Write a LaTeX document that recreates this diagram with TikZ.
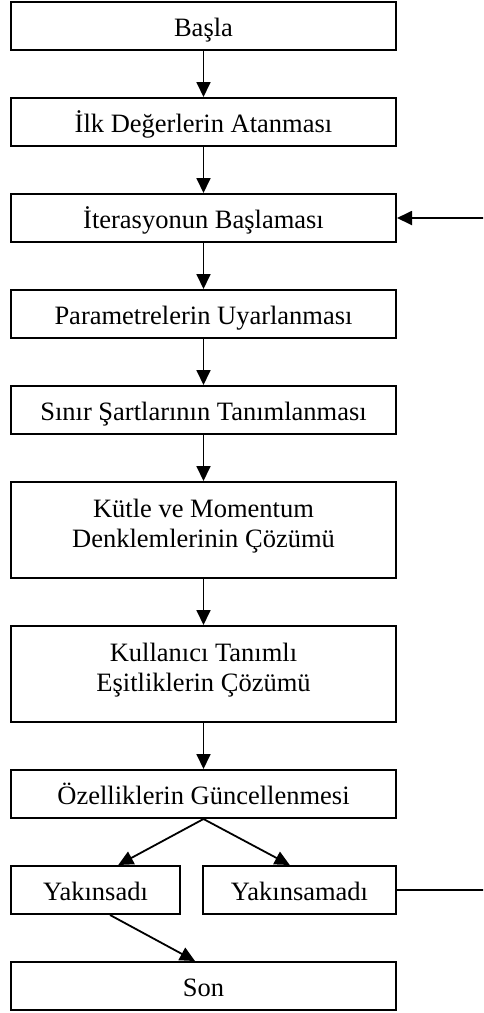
\documentclass[tikz,border=0pt]{standalone}
\usepackage{fontspec}
\setmainfont{Liberation Serif}
\usetikzlibrary{arrows.meta,calc}
\tikzset{
  box/.style={draw, line width=2pt, rectangle, inner sep=2pt,
    minimum width=385pt, minimum height=48pt,
    font=\fontsize{26.5}{30.6}\selectfont, text height=26pt, text depth=5pt},
  tallbox/.style={box, minimum height=96pt, text height=0pt, text depth=0pt},
  arr/.style={line width=1.8pt, -{Triangle[length=15pt, width=14pt]}}
}
\newcommand{\twolines}[2]{\raisebox{-2.5pt}[0pt][0pt]{\begin{tabular}{@{}c@{}}#1\\#2\end{tabular}}}
\begin{document}
\begin{tikzpicture}[x=1pt, y=-1pt]
\clip (0,0) rectangle (483,1013);
\node[box] (b1) at (203.5,26) {Başla};
\node[box] (b2) at (203.5,122) {İlk Değerlerin Atanması};
\node[box] (b3) at (203.5,218) {İterasyonun Başlaması};
\node[box] (b4) at (203.5,314) {Parametrelerin Uyarlanması};
\node[box] (b5) at (203.5,410) {Sınır Şartlarının Tanımlanması};
\node[tallbox] (b6) at (203.5,530) {\twolines{Kütle ve Momentum}{Denklemlerinin Çözümü}};
\node[tallbox] (b7) at (203.5,674) {\twolines{Kullanıcı Tanımlı}{Eşitliklerin Çözümü}};
\node[box] (b8) at (203.5,794) {Özelliklerin Güncellenmesi};
\node[box, minimum width=169pt] (yl) at (95.5,890) {Yakınsadı};
\node[box, minimum width=193pt] (yr) at (299.5,890) {Yakınsamadı};
\node[box] (son) at (203.5,986) {Son};

\draw[arr] (b1) -- (b2);
\draw[arr] (b2) -- (b3);
\draw[arr] (b3) -- (b4);
\draw[arr] (b4) -- (b5);
\draw[arr] (b5) -- (b6);
\draw[arr] (b6) -- (b7);
\draw[arr] (b7) -- (b8);
\draw[arr] (b8.south) -- ($(yl.north west)!0.633!(yl.north east)$);
\draw[arr] (b8.south) -- ($(yr.north west)!0.45!(yr.north east)$);
\draw[arr] ($(yl.south west)!0.585!(yl.south east)$) -- ($(son.north west)!0.478!(son.north east)$);
\draw[arr] (yr.east) -- ++(90,0) |- (b3.east);
\end{tikzpicture}
\end{document}
